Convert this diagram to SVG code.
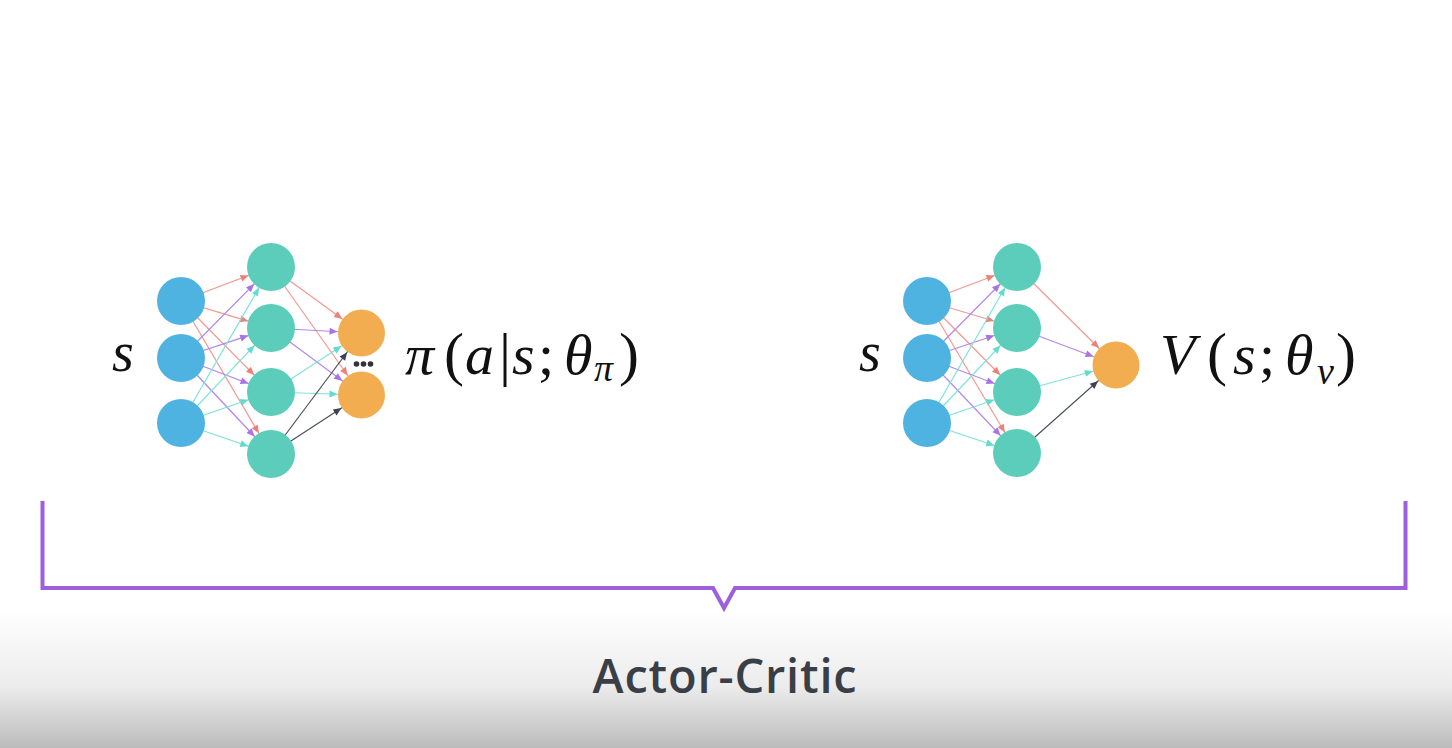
<svg xmlns="http://www.w3.org/2000/svg" width="1452" height="748" viewBox="0 0 1452 748">
<defs>
<linearGradient id="bg" gradientUnits="userSpaceOnUse" x1="0" y1="610" x2="0" y2="748">
<stop offset="0" stop-color="#ffffff"/>
<stop offset="0.55" stop-color="#ececec"/>
<stop offset="1" stop-color="#bcbcbc"/>
</linearGradient>
<marker id="aR" viewBox="0 0 40 10" refX="40" refY="5" markerWidth="40" markerHeight="10" markerUnits="userSpaceOnUse" orient="auto" overflow="visible"><path d="M8,1.5 L16,5 L8,8.5 z" fill="#ef7f78"/></marker>
<marker id="aP" viewBox="0 0 40 10" refX="40" refY="5" markerWidth="40" markerHeight="10" markerUnits="userSpaceOnUse" orient="auto" overflow="visible"><path d="M8,1.5 L16,5 L8,8.5 z" fill="#a873ea"/></marker>
<marker id="aC" viewBox="0 0 40 10" refX="40" refY="5" markerWidth="40" markerHeight="10" markerUnits="userSpaceOnUse" orient="auto" overflow="visible"><path d="M8,1.5 L16,5 L8,8.5 z" fill="#62dccd"/></marker>
<marker id="aD" viewBox="0 0 40 10" refX="40" refY="5" markerWidth="40" markerHeight="10" markerUnits="userSpaceOnUse" orient="auto" overflow="visible"><path d="M8,1.5 L16,5 L8,8.5 z" fill="#3f4450"/></marker>
</defs>
<style>
.r{stroke:#f19a92;stroke-width:1.2;fill:none;marker-end:url(#aR)}
.p{stroke:#b388ec;stroke-width:1.2;fill:none;marker-end:url(#aP)}
.c{stroke:#7fe3d7;stroke-width:1.2;fill:none;marker-end:url(#aC)}
.d{stroke:#4a4f5a;stroke-width:1.2;fill:none;marker-end:url(#aD)}
.in{fill:#4fb3e2}
.hid{fill:#5ccdbb}
.out{fill:#f2ad50}
.m{font-family:"Liberation Serif","DejaVu Serif",serif;font-style:italic;fill:#111}
.u{font-style:normal}
.br{fill:none;stroke:#9b5fe0;stroke-width:4;stroke-linejoin:miter}
</style>
<rect width="1452" height="748" fill="url(#bg)"/>

<g id="connectors">
<line class="r" x1="181" y1="301" x2="271" y2="267"/>
<line class="r" x1="181" y1="301" x2="271" y2="328"/>
<line class="r" x1="181" y1="301" x2="271" y2="392"/>
<line class="r" x1="181" y1="301" x2="271" y2="454"/>
<line class="p" x1="181" y1="358" x2="271" y2="267"/>
<line class="p" x1="181" y1="358" x2="271" y2="328"/>
<line class="p" x1="181" y1="358" x2="271" y2="392"/>
<line class="p" x1="181" y1="358" x2="271" y2="454"/>
<line class="c" x1="181" y1="423" x2="271" y2="267"/>
<line class="c" x1="181" y1="423" x2="271" y2="328"/>
<line class="c" x1="181" y1="423" x2="271" y2="392"/>
<line class="c" x1="181" y1="423" x2="271" y2="454"/>
<line class="r" x1="271" y1="267" x2="361.5" y2="333"/>
<line class="r" x1="271" y1="267" x2="361.5" y2="395"/>
<line class="p" x1="271" y1="328" x2="361.5" y2="333"/>
<line class="p" x1="271" y1="328" x2="361.5" y2="395"/>
<line class="c" x1="271" y1="392" x2="361.5" y2="333"/>
<line class="c" x1="271" y1="392" x2="361.5" y2="395"/>
<line class="d" x1="271" y1="454" x2="361.5" y2="333"/>
<line class="d" x1="271" y1="454" x2="361.5" y2="395"/>
<line class="r" x1="927" y1="301" x2="1017" y2="267"/>
<line class="r" x1="927" y1="301" x2="1017" y2="328"/>
<line class="r" x1="927" y1="301" x2="1017" y2="392"/>
<line class="r" x1="927" y1="301" x2="1017" y2="453"/>
<line class="p" x1="927" y1="358" x2="1017" y2="267"/>
<line class="p" x1="927" y1="358" x2="1017" y2="328"/>
<line class="p" x1="927" y1="358" x2="1017" y2="392"/>
<line class="p" x1="927" y1="358" x2="1017" y2="453"/>
<line class="c" x1="927" y1="423" x2="1017" y2="267"/>
<line class="c" x1="927" y1="423" x2="1017" y2="328"/>
<line class="c" x1="927" y1="423" x2="1017" y2="392"/>
<line class="c" x1="927" y1="423" x2="1017" y2="453"/>
<line class="r" x1="1017" y1="267" x2="1116" y2="365"/>
<line class="p" x1="1017" y1="328" x2="1116" y2="365"/>
<line class="c" x1="1017" y1="392" x2="1116" y2="365"/>
<line class="d" x1="1017" y1="453" x2="1116" y2="365"/>
</g>

<g id="actor-inputs">
<circle class="in" cx="181" cy="301" r="24"/>
<circle class="in" cx="181" cy="358" r="24"/>
<circle class="in" cx="181" cy="423" r="24"/>
</g>
<g id="actor-hidden">
<circle class="hid" cx="271" cy="267" r="24"/>
<circle class="hid" cx="271" cy="328" r="24"/>
<circle class="hid" cx="271" cy="392" r="24"/>
<circle class="hid" cx="271" cy="454" r="24"/>
</g>
<g id="actor-outputs">
<circle class="out" cx="361.5" cy="333" r="23.5"/>
<circle class="out" cx="361.5" cy="395" r="23.5"/>
<circle cx="356.5" cy="364" r="2.8" fill="#2f333a"/>
<circle cx="363.5" cy="364" r="2.8" fill="#2f333a"/>
<circle cx="370.5" cy="364" r="2.8" fill="#2f333a"/>
</g>
<g id="critic-inputs">
<circle class="in" cx="927" cy="301" r="24"/>
<circle class="in" cx="927" cy="358" r="24"/>
<circle class="in" cx="927" cy="423" r="24"/>
</g>
<g id="critic-hidden">
<circle class="hid" cx="1017" cy="267" r="24"/>
<circle class="hid" cx="1017" cy="328" r="24"/>
<circle class="hid" cx="1017" cy="392" r="24"/>
<circle class="hid" cx="1017" cy="453" r="24"/>
</g>
<g id="critic-output">
<circle class="out" cx="1116" cy="365" r="23.5"/>
</g>

<g id="actor-labels">
<text class="m" x="112" y="371" font-size="56">s</text>
<text class="m" font-size="58" y="374"><tspan x="405">π</tspan><tspan class="u" x="444" font-size="60">(</tspan><tspan x="465">a</tspan><tspan class="u" x="499" font-size="60">|</tspan><tspan x="512">s</tspan><tspan class="u" x="538">;</tspan><tspan x="564">θ</tspan><tspan x="594" y="381" font-size="38">π</tspan><tspan class="u" x="619" y="374" font-size="60">)</tspan></text>
</g>
<g id="critic-labels">
<text class="m" x="859" y="371" font-size="56">s</text>
<text class="m" font-size="58" y="374"><tspan x="1160">V</tspan><tspan class="u" x="1207" font-size="60">(</tspan><tspan x="1233">s</tspan><tspan class="u" x="1259">;</tspan><tspan x="1285">θ</tspan><tspan x="1317" y="384" font-size="38">v</tspan><tspan class="u" x="1336" y="374" font-size="60">)</tspan></text>
</g>

<g id="bracket">
<path class="br" d="M42.5,501 V588 H713 L724,608 L735,588 H1405.5 V501"/>
</g>
<g id="title">
<text x="725" y="693" text-anchor="middle" font-family="'Open Sans','Noto Sans',sans-serif" font-weight="600" font-size="47" fill="#3a3e46" letter-spacing="0.8">Actor-Critic</text>
</g>
</svg>
